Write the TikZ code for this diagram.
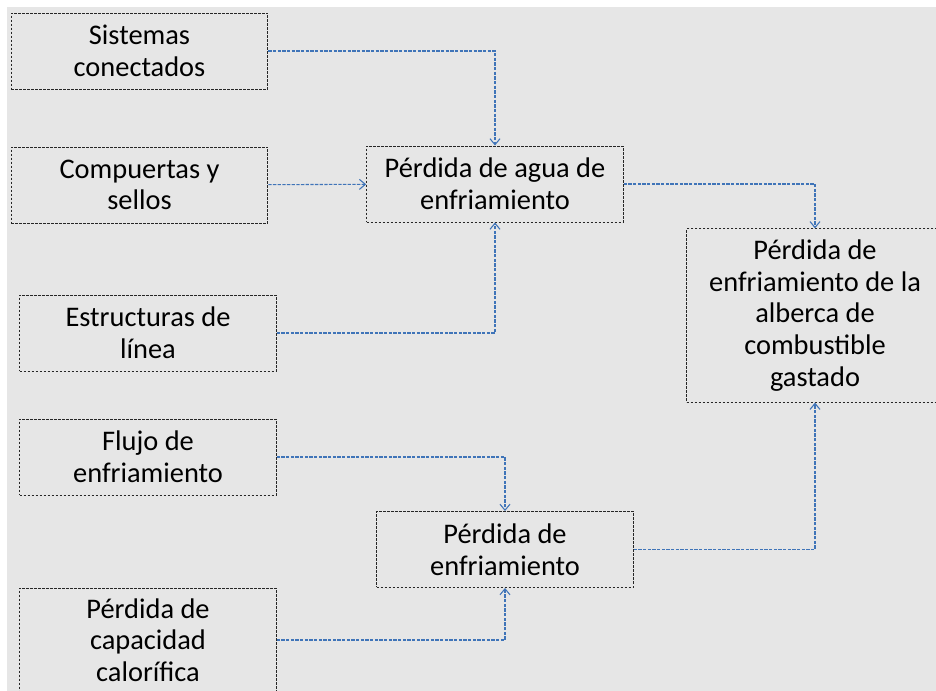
\documentclass[tikz,border=0pt]{standalone}
\usepackage{fontspec}
\setmainfont{Carlito}
\usepackage{xcolor}
\usetikzlibrary{arrows, arrows.meta, positioning}

\definecolor{fondo}{HTML}{E6E6E6}
\definecolor{linea}{HTML}{3F74B8}

\begin{document}
\begin{tikzpicture}[x=0.75pt, y=-0.75pt, >={Straight Barb[length=4.5pt, width=7.5pt]}]
        \tikzstyle{causa} = [rectangle, draw=black!85, line width=0.7pt, dash pattern=on 2pt off 1pt, minimum width=192.5pt, minimum height=57pt, align=center, inner sep=0pt, font=\fontsize{21.3}{23.8}\selectfont]
        \tikzstyle{flecha} = [->, draw=linea, line width=0.8pt, dash pattern=on 2.5pt off 1pt]
        
        % Fondo
        \useasboundingbox (0,0) rectangle (936,691);
        \fill[fondo] (7,7) rectangle (936,691);
        
        % Causas del agua de enfriamiento
        \node (sistemas) [causa] at (139.5,51) {Sistemas\\conectados};
        \node (compuertas) [causa] at (139.5,185) {Compuertas y\\sellos};
        \node (estructuras) [causa] at (148,333) {Estructuras de\\línea};
        
        % Causas del enfriamiento
        \node (flujo) [causa] at (148,457) {Flujo de\\enfriamiento};
        \node (capacidad) [causa, minimum height=78pt] at (148,640) {Pérdida de\\capacidad\\calorífica};
        
        % Pérdidas intermedias
        \node (agua) [causa] at (495,184) {Pérdida de agua de\\enfriamiento};
        \node (enfriamiento) [causa] at (505,549.5) {Pérdida de\\enfriamiento};
        
        % Resultado
        \node (alberca) [causa, minimum height=130pt] at (815,315.5) {Pérdida de\\enfriamiento de la\\alberca de\\combustible\\gastado};
        
        % Flechas
        \draw [flecha] (sistemas.east) -| (agua.north);
        \draw [flecha] (compuertas) -- (agua);
        \draw [flecha] (estructuras.east) -| (agua.south);
        \draw [flecha] (agua.east) -| (alberca.north);
        \draw [flecha] (flujo.east) -| (enfriamiento.north);
        \draw [flecha] (capacidad.east) -| (enfriamiento.south);
        \draw [flecha] (enfriamiento.east) -| (alberca.south);
\end{tikzpicture}
\end{document}
